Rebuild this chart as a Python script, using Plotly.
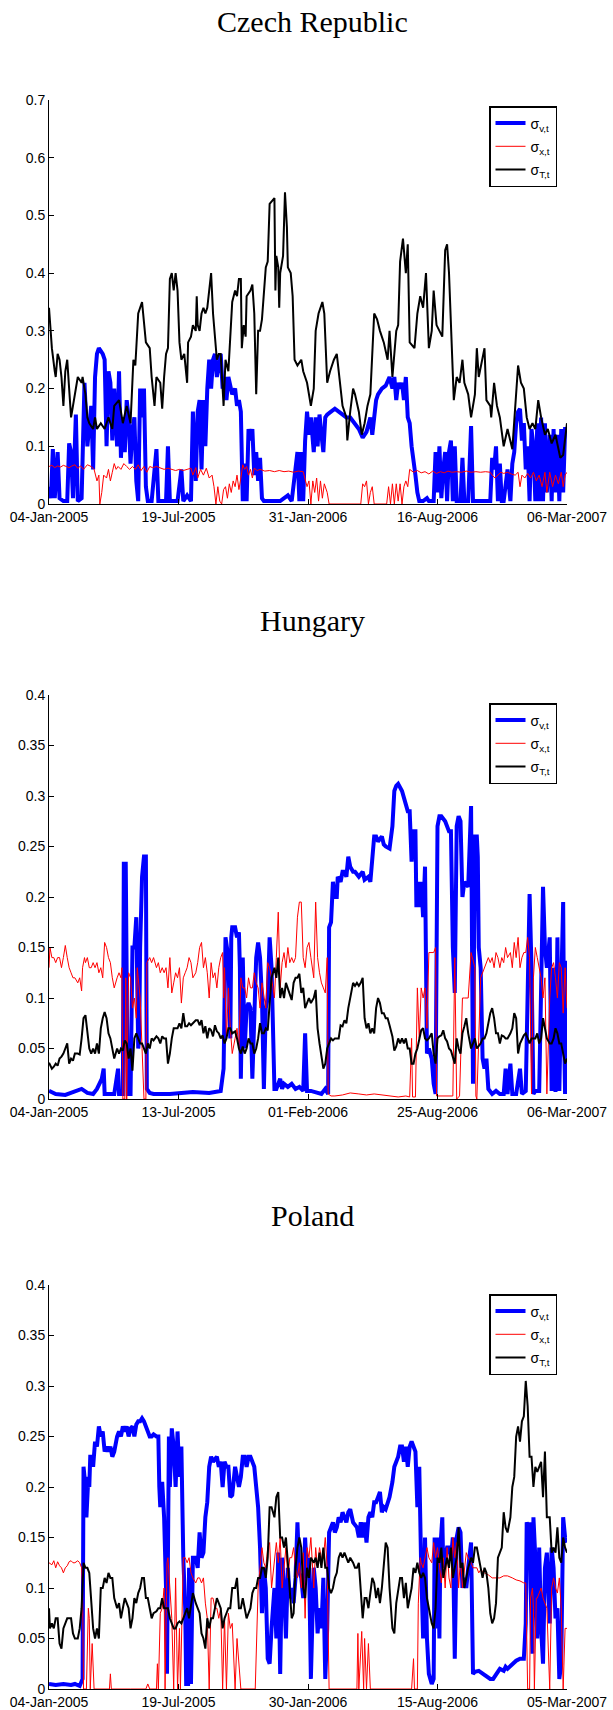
import plotly.graph_objects as go

# ---------------- data: (trading-day index, value) ----------------
cz_ticks = ["04-Jan-2005", "19-Jul-2005", "31-Jan-2006", "16-Aug-2006", "06-Mar-2007"]
hu_ticks = ["04-Jan-2005", "13-Jul-2005", "01-Feb-2006", "25-Aug-2006", "06-Mar-2007"]
pl_ticks = ["04-Jan-2005", "19-Jul-2005", "30-Jan-2006", "15-Aug-2006", "05-Mar-2007"]
tick_pos = [0, 135, 270, 405, 540]

cz_blue = [(0,0.03),(2,0.01),(4,0.095),(6,0.01),(9,0.09),(11,0.01),(15,0.005),(19,0.005),(21,0.105),(23,0.09),(25,0.01),(28,0.155),(30,0.005),(34,0.01),(37,0.21),(40,0.1),(44,0.17),(46,0.06),(48,0.22),(50,0.26),(52,0.27),(56,0.26),(58,0.25),(60,0.1),(62,0.23),(64,0.21),(66,0.11),(68,0.2),(71,0.1),(73,0.23),(75,0.08),(77,0.15),(79,0.09),(81,0.18),(83,0.15),(85,0.07),(87,0.13),(89,0.15),(91,0.04),(93,0.005),(95,0.2),(97,0.15),(99,0.2),(101,0.03),(103,0.005),(107,0.005),(112,0.095),(114,0.005),(118,0.005),(122,0.005),(124,0.1),(126,0.005),(134,0.005),(138,0.06),(140,0.005),(144,0.015),(148,0.005),(150,0.16),(153,0.04),(155,0.16),(157,0.18),(159,0.06),(161,0.18),(163,0.1),(165,0.2),(167,0.25),(169,0.2),(171,0.25),(173,0.26),(175,0.22),(179,0.26),(181,0.2),(183,0.22),(185,0.18),(187,0.22),(189,0.2),(191,0.19),(194,0.2),(196,0.17),(198,0.18),(200,0.16),(202,0.005),(204,0.07),(206,0.005),(208,0.13),(210,0.11),(212,0.13),(214,0.05),(216,0.09),(218,0.04),(220,0.08),(222,0.01),(224,0.005),(232,0.005),(241,0.005),(249,0.015),(253,0.005),(259,0.09),(261,0.005),(263,0.09),(265,0.005),(267,0.11),(269,0.16),(271,0.12),(273,0.15),(276,0.09),(278,0.15),(280,0.1),(282,0.155),(284,0.12),(286,0.09),(288,0.15),(290,0.155),(294,0.16),(298,0.165),(302,0.16),(306,0.155),(310,0.15),(314,0.15),(319,0.14),(323,0.13),(327,0.115),(331,0.125),(335,0.15),(337,0.12),(339,0.15),(341,0.18),(343,0.19),(347,0.2),(351,0.205),(355,0.22),(358,0.2),(360,0.22),(362,0.18),(364,0.21),(366,0.2),(368,0.21),(370,0.18),(372,0.22),(374,0.15),(376,0.14),(378,0.1),(380,0.08),(382,0.05),(384,0.02),(386,0.005),(390,0.005),(394,0.01),(396,0.005),(401,0.005),(403,0.09),(405,0.02),(407,0.1),(409,0.01),(411,0.06),(413,0.09),(415,0.005),(417,0.09),(419,0.11),(421,0.005),(423,0.1),(425,0.005),(429,0.005),(431,0.08),(433,0.005),(437,0.005),(440,0.135),(442,0.005),(446,0.005),(454,0.005),(460,0.005),(462,0.08),(464,0.06),(466,0.1),(468,0.005),(470,0.07),(472,0.005),(474,0.005),(478,0.06),(481,0.005),(483,0.07),(485,0.09),(487,0.14),(489,0.16),(491,0.165),(493,0.11),(495,0.14),(497,0.06),(499,0.1),(501,0.005),(503,0.13),(505,0.1),(507,0.005),(509,0.14),(511,0.005),(513,0.15),(515,0.005),(517,0.14),(519,0.02),(522,0.12),(524,0.005),(526,0.13),(528,0.02),(530,0.12),(532,0.005),(534,0.13),(536,0.02),(538,0.13),(540,0.13)]

cz_red = [(0,0.065),(3,0.067),(6,0.063),(9,0.066),(12,0.064),(15,0.067),(18,0.065),(21,0.063),(24,0.066),(27,0.068),(30,0.062),(33,0.066),(36,0.06),(40,0.068),(44,0.065),(47,0.06),(50,0.04),(52,0.05),(53,0.0),(55,0.02),(57,0.05),(60,0.045),(62,0.06),(64,0.04),(66,0.055),(68,0.07),(70,0.06),(72,0.065),(75,0.06),(78,0.07),(81,0.065),(84,0.06),(87,0.065),(90,0.06),(93,0.068),(96,0.058),(99,0.065),(102,0.055),(105,0.065),(108,0.063),(112,0.065),(116,0.062),(120,0.06),(124,0.062),(128,0.06),(132,0.058),(136,0.06),(140,0.058),(144,0.06),(148,0.062),(150,0.05),(153,0.063),(155,0.045),(158,0.06),(161,0.05),(164,0.062),(167,0.045),(170,0.05),(172,0.03),(174,0.0),(176,0.03),(178,0.005),(180,0.0),(182,0.025),(184,0.03),(186,0.01),(188,0.035),(190,0.02),(192,0.04),(194,0.03),(196,0.05),(198,0.025),(200,0.045),(202,0.068),(204,0.06),(206,0.065),(208,0.05),(210,0.06),(212,0.045),(214,0.062),(217,0.058),(220,0.06),(225,0.057),(230,0.058),(235,0.056),(240,0.058),(245,0.056),(250,0.057),(255,0.055),(260,0.057),(265,0.056),(267,0.045),(269,0.03),(271,0.04),(273,0.0),(275,0.04),(277,0.02),(279,0.045),(281,0.005),(283,0.04),(285,0.01),(287,0.035),(290,0.02),(292,0.0),(300,0.0),(310,0.0),(325,0.0),(327,0.035),(329,0.03),(331,0.04),(333,0.0),(335,0.02),(337,0.03),(339,0.0),(345,0.0),(352,0.0),(354,0.03),(356,0.0),(358,0.035),(360,0.0),(362,0.035),(364,0.005),(366,0.035),(368,0.0),(370,0.03),(372,0.04),(374,0.03),(376,0.06),(380,0.055),(384,0.058),(388,0.054),(392,0.056),(396,0.052),(400,0.057),(404,0.053),(408,0.056),(412,0.054),(416,0.057),(420,0.055),(425,0.056),(430,0.055),(435,0.057),(440,0.055),(445,0.056),(450,0.055),(455,0.056),(460,0.055),(462,0.05),(465,0.045),(468,0.05),(471,0.055),(474,0.053),(478,0.055),(482,0.052),(486,0.05),(489,0.055),(491,0.03),(493,0.05),(496,0.045),(499,0.053),(502,0.045),(505,0.055),(508,0.04),(511,0.05),(514,0.03),(517,0.055),(519,0.02),(522,0.055),(525,0.03),(528,0.05),(531,0.035),(534,0.055),(536,0.03),(538,0.05),(540,0.055)]

cz_black = [(0,0.34),(2,0.29),(3,0.27),(6,0.23),(7,0.22),(9,0.26),(11,0.25),(13,0.22),(15,0.17),(17,0.23),(19,0.25),(21,0.2),(23,0.15),(25,0.17),(30,0.22),(34,0.21),(35,0.22),(38,0.19),(40,0.15),(42,0.14),(46,0.13),(48,0.15),(50,0.13),(54,0.14),(58,0.13),(62,0.15),(66,0.13),(68,0.17),(73,0.18),(77,0.14),(81,0.17),(85,0.14),(88,0.25),(90,0.24),(93,0.33),(97,0.35),(101,0.28),(105,0.27),(107,0.22),(110,0.17),(112,0.22),(116,0.21),(118,0.165),(120,0.22),(122,0.26),(124,0.27),(126,0.39),(128,0.4),(130,0.37),(132,0.4),(134,0.37),(136,0.28),(138,0.25),(141,0.26),(144,0.21),(145,0.28),(148,0.29),(150,0.31),(153,0.3),(154,0.36),(155,0.31),(157,0.3),(159,0.33),(161,0.34),(163,0.33),(165,0.34),(169,0.4),(171,0.33),(175,0.25),(177,0.26),(179,0.26),(182,0.17),(184,0.25),(187,0.23),(189,0.3),(191,0.35),(194,0.37),(196,0.36),(198,0.39),(200,0.39),(201,0.27),(203,0.31),(205,0.29),(206,0.36),(210,0.37),(212,0.38),(214,0.33),(216,0.19),(218,0.3),(220,0.3),(222,0.32),(224,0.37),(226,0.41),(228,0.42),(230,0.52),(235,0.53),(236,0.37),(237,0.43),(239,0.41),(240,0.34),(241,0.4),(244,0.43),(246,0.54),(248,0.48),(249,0.41),(252,0.4),(254,0.36),(256,0.25),(259,0.24),(263,0.25),(265,0.23),(269,0.21),(273,0.17),(276,0.2),(278,0.3),(281,0.33),(285,0.35),(287,0.33),(290,0.21),(293,0.23),(297,0.25),(300,0.26),(302,0.23),(306,0.17),(310,0.15),(311,0.11),(314,0.16),(317,0.2),(319,0.19),(323,0.16),(326,0.12),(329,0.14),(332,0.17),(335,0.19),(339,0.33),(342,0.32),(345,0.3),(349,0.28),(353,0.25),(355,0.3),(358,0.22),(362,0.3),(364,0.31),(366,0.42),(369,0.46),(372,0.4),(374,0.45),(376,0.28),(381,0.27),(384,0.33),(387,0.36),(390,0.34),(393,0.4),(396,0.27),(399,0.3),(401,0.37),(404,0.31),(407,0.3),(410,0.29),(413,0.44),(415,0.45),(417,0.4),(419,0.32),(422,0.18),(425,0.22),(428,0.21),(431,0.25),(433,0.21),(437,0.19),(440,0.15),(444,0.19),(446,0.27),(448,0.22),(454,0.27),(456,0.18),(460,0.17),(461,0.15),(464,0.21),(467,0.17),(470,0.15),(474,0.1),(478,0.13),(483,0.095),(486,0.17),(489,0.24),(492,0.21),(495,0.2),(498,0.15),(501,0.13),(504,0.14),(507,0.13),(510,0.18),(513,0.15),(517,0.12),(520,0.13),(524,0.105),(528,0.12),(533,0.08),(536,0.085),(540,0.14)]

hu_blue = [(0,0.008),(7,0.005),(17,0.004),(34,0.01),(40,0.006),(46,0.005),(50,0.01),(53,0.015),(55,0.02),(57,0.03),(58,0.005),(68,0.005),(72,0.03),(73,0.005),(77,0.005),(78,0.233),(80,0.233),(82,0.005),(85,0.005),(87,0.15),(89,0.15),(91,0.18),(93,0.05),(94,0.06),(95,0.15),(97,0.22),(99,0.24),(101,0.24),(102,0.01),(105,0.006),(109,0.005),(118,0.005),(126,0.005),(138,0.006),(150,0.007),(167,0.006),(179,0.008),(182,0.03),(184,0.16),(187,0.14),(189,0.06),(190,0.16),(191,0.17),(194,0.17),(196,0.16),(198,0.165),(199,0.13),(200,0.02),(202,0.14),(204,0.05),(206,0.09),(208,0.095),(210,0.09),(212,0.02),(214,0.08),(216,0.14),(218,0.155),(220,0.14),(222,0.1),(224,0.01),(226,0.09),(228,0.1),(230,0.16),(232,0.13),(235,0.01),(237,0.01),(241,0.02),(243,0.01),(245,0.015),(249,0.012),(253,0.015),(257,0.01),(261,0.012),(265,0.008),(267,0.065),(269,0.008),(273,0.008),(280,0.006),(284,0.005),(288,0.01),(291,0.005),(292,0.17),(294,0.175),(296,0.215),(298,0.2),(300,0.2),(301,0.22),(304,0.215),(306,0.225),(308,0.225),(310,0.22),(312,0.24),(314,0.23),(317,0.225),(319,0.225),(323,0.22),(327,0.225),(329,0.217),(333,0.22),(335,0.215),(337,0.24),(339,0.26),(341,0.26),(343,0.255),(347,0.26),(349,0.252),(351,0.25),(355,0.248),(358,0.27),(360,0.305),(362,0.31),(364,0.312),(368,0.305),(372,0.29),(374,0.285),(376,0.285),(378,0.235),(380,0.265),(382,0.265),(383,0.19),(385,0.215),(386,0.19),(388,0.215),(390,0.18),(392,0.23),(394,0.045),(396,0.05),(399,0.04),(401,0.015),(403,0.005),(405,0.27),(407,0.28),(409,0.28),(413,0.275),(415,0.27),(417,0.265),(419,0.265),(421,0.15),(423,0.105),(425,0.27),(427,0.28),(429,0.275),(431,0.2),(433,0.215),(437,0.21),(440,0.29),(442,0.015),(444,0.26),(446,0.26),(447,0.24),(448,0.15),(450,0.13),(452,0.04),(454,0.03),(456,0.04),(458,0.01),(462,0.005),(466,0.008),(470,0.005),(474,0.005),(476,0.03),(478,0.005),(481,0.035),(483,0.005),(487,0.005),(491,0.03),(493,0.005),(497,0.008),(501,0.203),(503,0.13),(505,0.005),(507,0.008),(511,0.008),(513,0.1),(515,0.21),(517,0.15),(519,0.13),(522,0.16),(524,0.008),(526,0.13),(528,0.007),(530,0.16),(532,0.008),(534,0.11),(536,0.195),(537,0.06),(538,0.005),(540,0.137)]

hu_red = [(0,0.13),(1,0.15),(3,0.14),(5,0.14),(7,0.135),(9,0.14),(11,0.14),(13,0.13),(15,0.14),(17,0.152),(19,0.14),(21,0.13),(23,0.125),(25,0.12),(27,0.12),(30,0.115),(32,0.12),(34,0.107),(35,0.13),(37,0.14),(38,0.135),(40,0.14),(42,0.13),(44,0.13),(46,0.135),(48,0.13),(50,0.135),(52,0.125),(54,0.13),(56,0.12),(58,0.155),(60,0.15),(62,0.14),(64,0.135),(66,0.12),(68,0.11),(71,0.12),(73,0.125),(75,0.12),(76,0.13),(77,0.0),(79,0.0),(80,0.12),(81,0.0),(83,0.125),(85,0.12),(87,0.09),(89,0.1),(91,0.08),(92,0.13),(93,0.12),(95,0.1),(97,0.05),(99,0.0),(101,0.0),(102,0.135),(105,0.14),(107,0.135),(109,0.14),(112,0.13),(114,0.135),(116,0.125),(118,0.13),(120,0.125),(122,0.13),(124,0.11),(126,0.14),(128,0.105),(130,0.115),(132,0.125),(134,0.12),(136,0.13),(138,0.095),(140,0.12),(142,0.125),(144,0.13),(146,0.14),(148,0.135),(150,0.12),(153,0.125),(155,0.135),(157,0.15),(159,0.155),(161,0.13),(163,0.14),(165,0.125),(167,0.1),(169,0.135),(171,0.12),(173,0.125),(175,0.11),(177,0.13),(179,0.14),(181,0.145),(182,0.1),(183,0.13),(185,0.06),(187,0.11),(189,0.07),(191,0.045),(194,0.06),(196,0.07),(198,0.05),(200,0.12),(202,0.11),(204,0.11),(206,0.1),(208,0.12),(210,0.11),(212,0.11),(214,0.125),(216,0.115),(218,0.11),(220,0.09),(222,0.115),(224,0.1),(226,0.09),(228,0.135),(230,0.13),(232,0.12),(235,0.1),(237,0.14),(239,0.185),(241,0.11),(243,0.135),(245,0.145),(247,0.13),(249,0.15),(251,0.135),(253,0.14),(255,0.135),(257,0.14),(259,0.18),(261,0.195),(263,0.195),(265,0.14),(267,0.13),(269,0.15),(271,0.155),(273,0.14),(276,0.12),(278,0.195),(280,0.14),(282,0.125),(284,0.115),(286,0.11),(288,0.105),(290,0.14),(291,0.005),(294,0.003),(298,0.003),(306,0.004),(314,0.006),(323,0.005),(331,0.004),(339,0.005),(347,0.004),(355,0.003),(364,0.002),(372,0.003),(376,0.002),(378,0.06),(379,0.002),(382,0.002),(384,0.11),(386,0.06),(388,0.11),(390,0.1),(392,0.11),(394,0.07),(396,0.145),(401,0.145),(403,0.15),(404,0.003),(407,0.003),(413,0.003),(421,0.003),(423,0.14),(425,0.0),(428,0.003),(431,0.1),(433,0.1),(437,0.1),(440,0.145),(444,0.13),(445,0.003),(446,0.0),(450,0.12),(454,0.13),(456,0.135),(458,0.14),(460,0.135),(462,0.14),(464,0.13),(466,0.145),(468,0.14),(470,0.13),(472,0.14),(474,0.135),(476,0.15),(478,0.14),(481,0.145),(483,0.13),(485,0.155),(487,0.14),(489,0.16),(491,0.13),(493,0.14),(495,0.145),(497,0.145),(499,0.16),(501,0.14),(503,0.005),(505,0.12),(507,0.15),(509,0.14),(511,0.13),(513,0.12),(515,0.1),(517,0.12),(519,0.005),(522,0.1),(524,0.13),(526,0.135),(528,0.12),(530,0.1),(532,0.135),(534,0.13),(536,0.085),(538,0.13),(540,0.09)]

hu_black = [(0,0.036),(3,0.03),(5,0.032),(7,0.035),(9,0.033),(11,0.04),(13,0.042),(15,0.045),(17,0.05),(19,0.055),(21,0.035),(23,0.04),(25,0.038),(27,0.045),(30,0.045),(32,0.044),(34,0.06),(36,0.08),(38,0.083),(40,0.065),(42,0.05),(44,0.045),(46,0.05),(48,0.045),(50,0.055),(52,0.045),(54,0.07),(56,0.08),(58,0.086),(60,0.08),(62,0.065),(64,0.06),(66,0.05),(68,0.04),(71,0.05),(73,0.045),(75,0.05),(77,0.048),(79,0.058),(81,0.055),(83,0.04),(85,0.05),(87,0.028),(89,0.06),(91,0.065),(93,0.06),(95,0.055),(97,0.055),(99,0.05),(101,0.045),(103,0.055),(105,0.05),(107,0.06),(109,0.058),(112,0.062),(114,0.06),(116,0.055),(118,0.062),(120,0.06),(122,0.06),(124,0.035),(126,0.045),(128,0.06),(130,0.07),(132,0.07),(134,0.07),(136,0.075),(138,0.07),(140,0.085),(142,0.072),(144,0.072),(146,0.075),(148,0.073),(150,0.075),(153,0.078),(155,0.078),(157,0.073),(159,0.078),(161,0.065),(163,0.072),(165,0.06),(167,0.07),(169,0.068),(171,0.062),(173,0.073),(175,0.067),(177,0.065),(179,0.06),(181,0.063),(183,0.055),(185,0.06),(187,0.07),(189,0.07),(191,0.065),(194,0.067),(196,0.06),(198,0.05),(200,0.045),(202,0.052),(204,0.045),(206,0.05),(208,0.06),(210,0.055),(212,0.055),(214,0.045),(216,0.05),(218,0.06),(220,0.075),(222,0.065),(224,0.065),(226,0.07),(228,0.068),(230,0.1),(232,0.12),(235,0.13),(237,0.12),(239,0.14),(241,0.1),(243,0.11),(245,0.1),(247,0.115),(249,0.11),(251,0.105),(253,0.098),(255,0.115),(257,0.12),(259,0.12),(261,0.124),(263,0.105),(265,0.11),(267,0.09),(269,0.095),(271,0.1),(273,0.095),(276,0.1),(278,0.108),(280,0.07),(282,0.055),(284,0.04),(286,0.03),(288,0.035),(290,0.05),(292,0.055),(294,0.06),(296,0.058),(298,0.06),(300,0.06),(302,0.06),(304,0.073),(306,0.072),(308,0.078),(310,0.075),(312,0.09),(314,0.1),(317,0.115),(319,0.112),(321,0.115),(323,0.112),(325,0.115),(327,0.12),(329,0.08),(331,0.07),(333,0.075),(335,0.065),(337,0.07),(339,0.065),(341,0.09),(343,0.1),(345,0.095),(347,0.085),(349,0.085),(351,0.08),(353,0.08),(355,0.073),(358,0.062),(360,0.048),(362,0.052),(364,0.06),(366,0.055),(368,0.06),(370,0.055),(372,0.06),(374,0.05),(376,0.05),(378,0.035),(380,0.035),(382,0.045),(384,0.05),(386,0.06),(388,0.068),(390,0.07),(392,0.06),(394,0.058),(396,0.06),(399,0.065),(401,0.045),(403,0.035),(405,0.06),(407,0.062),(409,0.063),(411,0.068),(413,0.06),(415,0.057),(417,0.05),(419,0.048),(421,0.04),(423,0.035),(425,0.06),(427,0.05),(429,0.045),(431,0.065),(433,0.072),(435,0.08),(437,0.065),(440,0.05),(442,0.055),(444,0.06),(446,0.05),(448,0.052),(450,0.055),(452,0.06),(454,0.06),(456,0.065),(458,0.075),(460,0.085),(462,0.09),(464,0.08),(466,0.065),(468,0.065),(470,0.055),(472,0.063),(474,0.062),(476,0.06),(478,0.06),(481,0.065),(483,0.07),(485,0.085),(487,0.08),(489,0.045),(491,0.055),(493,0.06),(495,0.063),(497,0.065),(499,0.06),(501,0.055),(503,0.06),(505,0.06),(507,0.06),(509,0.065),(511,0.055),(513,0.06),(515,0.08),(517,0.07),(519,0.06),(522,0.055),(524,0.055),(526,0.06),(528,0.07),(530,0.065),(532,0.055),(534,0.055),(536,0.045),(538,0.035),(540,0.04)]

pl_blue = [(0,0.005),(7,0.004),(15,0.005),(23,0.004),(27,0.005),(32,0.003),(35,0.01),(36,0.22),(38,0.2),(39,0.17),(41,0.21),(42,0.2),(43,0.23),(45,0.23),(46,0.22),(48,0.245),(50,0.24),(52,0.26),(54,0.25),(56,0.255),(58,0.235),(60,0.24),(62,0.235),(64,0.24),(66,0.23),(68,0.235),(71,0.25),(73,0.255),(75,0.25),(77,0.26),(79,0.255),(81,0.26),(83,0.25),(85,0.258),(87,0.26),(89,0.25),(91,0.262),(93,0.265),(95,0.265),(97,0.268),(99,0.265),(101,0.26),(103,0.253),(105,0.25),(107,0.25),(109,0.252),(112,0.25),(114,0.25),(115,0.2),(116,0.18),(118,0.205),(120,0.17),(122,0.1),(123,0.015),(125,0.25),(126,0.2),(128,0.258),(130,0.24),(132,0.2),(134,0.255),(136,0.21),(138,0.24),(140,0.13),(142,0.08),(143,0.005),(145,0.005),(146,0.12),(148,0.005),(150,0.13),(153,0.13),(155,0.12),(157,0.155),(159,0.13),(161,0.135),(163,0.17),(165,0.185),(167,0.22),(169,0.23),(171,0.225),(173,0.228),(175,0.23),(177,0.22),(179,0.225),(181,0.2),(183,0.225),(185,0.22),(187,0.22),(189,0.19),(191,0.192),(194,0.22),(196,0.21),(198,0.2),(200,0.21),(202,0.23),(204,0.23),(206,0.22),(208,0.23),(210,0.23),(212,0.225),(214,0.22),(216,0.2),(218,0.18),(220,0.14),(222,0.075),(224,0.12),(226,0.1),(228,0.03),(230,0.025),(232,0.06),(235,0.1),(237,0.05),(239,0.135),(241,0.015),(243,0.13),(245,0.1),(247,0.05),(249,0.12),(251,0.09),(253,0.1),(255,0.085),(257,0.11),(259,0.165),(261,0.115),(263,0.11),(265,0.09),(267,0.15),(269,0.11),(271,0.13),(273,0.01),(276,0.12),(278,0.1),(280,0.055),(282,0.08),(284,0.06),(286,0.11),(288,0.01),(290,0.06),(292,0.155),(294,0.16),(296,0.165),(298,0.155),(300,0.16),(302,0.17),(304,0.165),(306,0.175),(308,0.17),(310,0.165),(312,0.175),(314,0.178),(317,0.165),(319,0.163),(321,0.16),(323,0.15),(325,0.165),(327,0.15),(329,0.165),(331,0.145),(333,0.17),(335,0.175),(337,0.17),(339,0.185),(341,0.185),(343,0.19),(345,0.195),(347,0.175),(349,0.18),(351,0.178),(353,0.185),(355,0.19),(358,0.205),(360,0.22),(362,0.225),(364,0.23),(366,0.24),(368,0.24),(370,0.225),(372,0.24),(374,0.22),(376,0.24),(378,0.245),(380,0.24),(382,0.235),(384,0.18),(386,0.22),(388,0.12),(390,0.05),(392,0.15),(393,0.07),(394,0.05),(396,0.015),(399,0.005),(401,0.01),(402,0.15),(404,0.06),(405,0.15),(407,0.05),(408,0.14),(410,0.17),(411,0.12),(413,0.13),(415,0.14),(417,0.14),(419,0.13),(421,0.15),(423,0.03),(425,0.15),(427,0.16),(429,0.155),(431,0.1),(433,0.11),(435,0.1),(437,0.12),(440,0.145),(442,0.015),(444,0.017),(448,0.018),(452,0.015),(456,0.012),(460,0.01),(463,0.01),(466,0.015),(470,0.02),(474,0.018),(476,0.022),(478,0.02),(483,0.025),(487,0.028),(491,0.03),(495,0.03),(497,0.065),(498,0.165),(500,0.16),(501,0.165),(502,0.1),(504,0.035),(505,0.17),(507,0.13),(509,0.05),(511,0.14),(513,0.06),(515,0.025),(517,0.12),(519,0.135),(522,0.065),(524,0.14),(526,0.12),(528,0.07),(530,0.08),(532,0.01),(534,0.025),(536,0.17),(538,0.15),(540,0.145)]

pl_red = [(0,0.125),(3,0.123),(5,0.127),(7,0.12),(9,0.126),(11,0.122),(13,0.12),(15,0.115),(17,0.12),(19,0.122),(21,0.126),(23,0.127),(25,0.125),(27,0.125),(30,0.127),(32,0.125),(34,0.12),(35,0.1),(36,0.0),(39,0.0),(41,0.08),(42,0.07),(43,0.0),(45,0.045),(47,0.0),(52,0.0),(63,0.0),(64,0.015),(65,0.0),(85,0.0),(101,0.0),(103,0.005),(105,0.0),(112,0.0),(113,0.025),(114,0.0),(116,0.075),(118,0.08),(120,0.1),(121,0.0),(123,0.125),(124,0.13),(126,0.1),(128,0.07),(130,0.0),(132,0.11),(134,0.0),(136,0.06),(137,0.0),(140,0.13),(142,0.13),(144,0.125),(146,0.13),(148,0.115),(150,0.11),(153,0.105),(155,0.11),(157,0.11),(159,0.105),(161,0.11),(163,0.085),(165,0.07),(167,0.0),(169,0.09),(171,0.09),(173,0.08),(175,0.08),(177,0.07),(179,0.08),(181,0.0),(183,0.07),(185,0.0),(187,0.075),(189,0.06),(191,0.065),(194,0.0),(196,0.05),(200,0.0),(215,0.0),(217,0.08),(218,0.1),(220,0.12),(222,0.14),(224,0.125),(226,0.12),(228,0.14),(230,0.145),(232,0.1),(235,0.13),(237,0.145),(239,0.125),(241,0.15),(243,0.1),(245,0.12),(247,0.14),(249,0.11),(251,0.13),(253,0.13),(255,0.14),(257,0.12),(259,0.11),(261,0.125),(263,0.1),(265,0.135),(267,0.07),(269,0.14),(271,0.13),(273,0.15),(276,0.1),(278,0.14),(280,0.12),(282,0.14),(284,0.13),(286,0.13),(288,0.15),(290,0.12),(292,0.0),(321,0.0),(322,0.055),(323,0.0),(326,0.057),(328,0.0),(329,0.05),(331,0.0),(333,0.045),(335,0.0),(378,0.0),(380,0.03),(381,0.0),(384,0.0),(385,0.085),(387,0.13),(388,0.125),(390,0.12),(392,0.13),(394,0.14),(396,0.13),(399,0.125),(401,0.145),(403,0.13),(405,0.14),(407,0.12),(409,0.105),(411,0.13),(413,0.1),(415,0.14),(417,0.11),(419,0.1),(421,0.15),(423,0.13),(425,0.145),(427,0.1),(429,0.13),(431,0.1),(433,0.115),(435,0.135),(437,0.13),(440,0.125),(442,0.12),(444,0.12),(446,0.12),(448,0.115),(450,0.118),(454,0.115),(458,0.113),(462,0.11),(466,0.11),(470,0.11),(474,0.112),(478,0.112),(483,0.11),(487,0.108),(491,0.107),(495,0.105),(497,0.105),(499,0.0),(501,0.0),(502,0.09),(504,0.1),(505,0.08),(506,0.0),(508,0.09),(509,0.09),(511,0.095),(513,0.1),(515,0.09),(517,0.085),(519,0.08),(522,0.0),(524,0.1),(526,0.11),(528,0.1),(530,0.095),(532,0.11),(534,0.08),(536,0.0),(538,0.06),(540,0.06)]

pl_black = [(0,0.08),(1,0.06),(3,0.065),(5,0.06),(7,0.07),(9,0.07),(11,0.045),(13,0.04),(15,0.06),(17,0.065),(19,0.07),(21,0.07),(23,0.07),(25,0.055),(27,0.05),(30,0.05),(32,0.06),(34,0.08),(36,0.125),(38,0.12),(40,0.12),(42,0.115),(44,0.09),(46,0.06),(48,0.05),(50,0.06),(52,0.05),(54,0.1),(56,0.1),(58,0.11),(60,0.105),(62,0.115),(64,0.11),(66,0.11),(68,0.09),(71,0.08),(73,0.085),(75,0.07),(77,0.08),(79,0.09),(81,0.085),(83,0.08),(85,0.06),(87,0.07),(89,0.09),(91,0.085),(93,0.095),(95,0.1),(97,0.11),(99,0.11),(101,0.09),(103,0.09),(105,0.08),(107,0.07),(109,0.075),(112,0.077),(114,0.08),(116,0.08),(118,0.09),(120,0.08),(122,0.08),(124,0.08),(126,0.07),(128,0.065),(130,0.06),(132,0.06),(134,0.065),(136,0.067),(138,0.065),(140,0.07),(142,0.075),(144,0.08),(146,0.07),(148,0.085),(150,0.095),(153,0.085),(155,0.08),(157,0.075),(159,0.055),(161,0.05),(163,0.04),(165,0.07),(167,0.06),(169,0.07),(171,0.07),(173,0.08),(175,0.09),(177,0.085),(179,0.08),(181,0.06),(183,0.07),(185,0.075),(187,0.08),(189,0.08),(191,0.1),(194,0.1),(196,0.11),(198,0.08),(200,0.08),(202,0.09),(204,0.08),(206,0.07),(208,0.075),(210,0.08),(212,0.095),(214,0.1),(216,0.1),(218,0.11),(220,0.11),(222,0.12),(224,0.12),(226,0.11),(228,0.13),(230,0.18),(232,0.18),(235,0.17),(237,0.19),(239,0.195),(241,0.15),(243,0.15),(245,0.14),(247,0.15),(249,0.125),(251,0.1),(253,0.07),(255,0.075),(257,0.12),(259,0.14),(261,0.15),(263,0.14),(265,0.1),(267,0.09),(269,0.12),(271,0.11),(273,0.13),(276,0.125),(278,0.13),(280,0.12),(282,0.135),(284,0.12),(286,0.14),(288,0.12),(290,0.12),(292,0.1),(294,0.095),(296,0.1),(298,0.11),(300,0.115),(302,0.13),(304,0.135),(306,0.13),(308,0.135),(310,0.13),(312,0.125),(314,0.13),(317,0.125),(319,0.12),(321,0.12),(323,0.125),(325,0.1),(327,0.07),(329,0.09),(331,0.09),(333,0.08),(335,0.095),(337,0.11),(339,0.105),(341,0.09),(343,0.1),(345,0.085),(347,0.1),(349,0.12),(351,0.145),(353,0.14),(355,0.1),(358,0.06),(360,0.055),(362,0.085),(364,0.1),(366,0.11),(368,0.11),(370,0.09),(372,0.105),(374,0.08),(376,0.09),(378,0.1),(380,0.12),(382,0.115),(384,0.125),(386,0.115),(388,0.11),(390,0.115),(392,0.11),(394,0.09),(396,0.08),(399,0.065),(401,0.06),(403,0.08),(405,0.13),(407,0.125),(409,0.14),(411,0.11),(413,0.12),(415,0.13),(417,0.12),(419,0.14),(421,0.11),(423,0.12),(425,0.13),(427,0.16),(429,0.12),(431,0.125),(433,0.1),(435,0.11),(437,0.12),(440,0.13),(442,0.125),(444,0.14),(446,0.14),(448,0.13),(450,0.12),(452,0.11),(454,0.12),(456,0.115),(458,0.1),(460,0.075),(462,0.065),(464,0.07),(466,0.085),(468,0.13),(470,0.135),(472,0.14),(474,0.175),(476,0.16),(478,0.155),(481,0.17),(483,0.2),(485,0.21),(487,0.25),(489,0.26),(491,0.245),(493,0.265),(495,0.27),(497,0.305),(499,0.28),(501,0.23),(503,0.23),(505,0.2),(507,0.22),(509,0.215),(511,0.22),(513,0.225),(515,0.19),(517,0.235),(519,0.17),(522,0.17),(524,0.135),(526,0.14),(528,0.135),(530,0.16),(532,0.13),(534,0.125),(536,0.15),(538,0.14),(540,0.135)]

titles = ["Czech Republic", "Hungary", "Poland"]
legend_names = ["σ<sub>v,t</sub>", "σ<sub>x,t</sub>", "σ<sub>T,t</sub>"]
yticks_cz = [0, 0.1, 0.2, 0.3, 0.4, 0.5, 0.6, 0.7]
yticks_hp = [0, 0.05, 0.1, 0.15, 0.2, 0.25, 0.3, 0.35, 0.4]

# ---------------- layout geometry (page px; body margin removed below) ----------------
W, H = 613, 1710
x_dom = [49 / W, 567 / W]
panels_px = [(100, 504), (695, 1099), (1285, 1689)]
title_px = [22, 620, 1215]
legend_top_px = [106, 703, 1294]

fig = go.Figure()
series = [(cz_blue, cz_red, cz_black), (hu_blue, hu_red, hu_black), (pl_blue, pl_red, pl_black)]
styles = [("#0000ff", 4.0), ("#ff0000", 1.0), ("#000000", 2.0)]
for i, group in enumerate(series):
    ax = "" if i == 0 else str(i + 1)
    for j, data in enumerate(group):
        t = [p[0] for p in data]
        v = [p[1] for p in data]
        fig.add_trace(go.Scatter(
            x=t, y=v, mode="lines", name=legend_names[j],
            line=dict(color=styles[j][0], width=styles[j][1]),
            xaxis="x" + ax, yaxis="y" + ax,
            legend="legend" + ax, legendgroup=f"g{i}{j}", showlegend=True))

axis_common = dict(showline=True, linecolor="black", linewidth=1, mirror=False,
                   ticks="inside", ticklen=5, tickwidth=1, tickcolor="black",
                   showgrid=False, zeroline=False, automargin=False,
                   tickfont=dict(family="Liberation Sans, Arial, sans-serif", size=14, color="black"))
layout = dict(width=W, height=H, margin=dict(l=0, r=0, t=0, b=0, pad=0, autoexpand=False),
              paper_bgcolor="white", plot_bgcolor="white", annotations=[])
tick_sets = [cz_ticks, hu_ticks, pl_ticks]
for i in range(3):
    ax = "" if i == 0 else str(i + 1)
    top, bot = panels_px[i]
    y_dom = [1 - bot / H, 1 - top / H]
    yt = yticks_cz if i == 0 else yticks_hp
    layout["xaxis" + ax] = dict(axis_common, domain=x_dom, range=[0, 540],
                                tickmode="array", tickvals=tick_pos, ticktext=tick_sets[i],
                                anchor="y" + ax)
    layout["yaxis" + ax] = dict(axis_common, domain=y_dom, range=[0, yt[-1]],
                                tickmode="array", tickvals=yt, ticktext=[f"{v:g}" for v in yt],
                                anchor="x" + ax)
    layout["legend" + ax] = dict(x=557 / W, xanchor="right", y=1 - legend_top_px[i] / H, yanchor="top",
                                 bgcolor="white", bordercolor="black", borderwidth=1.5,
                                 font=dict(family="Liberation Sans, Arial, sans-serif", size=14, color="black"),
                                 tracegroupgap=2, itemwidth=30)
    layout["annotations"].append(dict(text=titles[i], xref="paper", yref="paper",
                                      x=312 / W, y=1 - title_px[i] / H, xanchor="center", yanchor="middle",
                                      showarrow=False,
                                      font=dict(family="Liberation Serif, Times New Roman, serif", size=30, color="black")))
fig.update_layout(**layout)
fig.write_html("out.html", config={"displayModeBar": False, "staticPlot": True},
               post_script="document.body.style.margin='0';")
